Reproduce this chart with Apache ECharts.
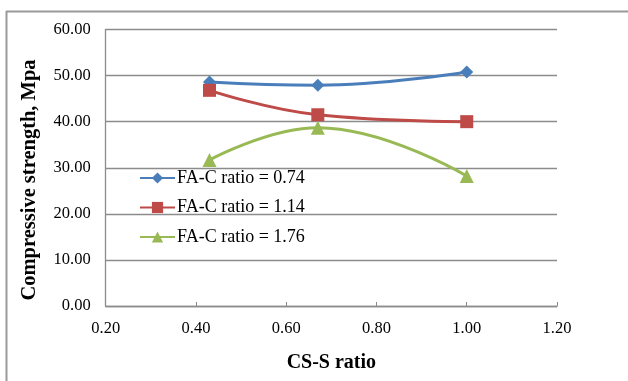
<!DOCTYPE html>
<html><head><meta charset="utf-8">
<script src="https://cdn.jsdelivr.net/npm/echarts@6/dist/echarts.min.js"></script>
<style>html,body{margin:0;padding:0;background:#fff}#c{width:628px;height:381px}</style>
</head><body><div id="c"></div>
<script>
const xValues = [0.43, 0.67, 1.00];
const seriesNames = ['FA-C ratio = 0.74', 'FA-C ratio = 1.14', 'FA-C ratio = 1.76'];
const s074 = [48.6, 47.9, 50.8];
const s114 = [46.8, 41.5, 40.0];
const s176 = [31.7, 38.7, 28.2];
const xTicks = [0.2, 0.4, 0.6, 0.8, 1.0, 1.2];
const yTicks = [0, 10, 20, 30, 40, 50, 60];
const yTitle = 'Compressive strength, Mpa';
const xTitle = 'CS-S ratio';

const chart = echarts.init(document.getElementById('c'));
const font = 'Liberation Serif';
function mk(name, vals, color, symbol, size) {
  return {
    name, type: 'line', smooth: 0.45, symbol, symbolSize: size,
    data: xValues.map((x, i) => [x, vals[i]]),
    lineStyle: { color, width: 3 }, itemStyle: { color },
    emphasis: { disabled: true }
  };
}
chart.setOption({
  animation: false,
  graphic: [
    { type: 'line', shape: { x1: 6, y1: 11.5, x2: 628, y2: 11.5 }, style: { stroke: '#9a9a9a', lineWidth: 2 } },
    { type: 'line', shape: { x1: 6.5, y1: 11, x2: 6.5, y2: 381 }, style: { stroke: '#9a9a9a', lineWidth: 2 } },
    { type: 'text', x: 30, y: 180, rotation: Math.PI / 2,
      style: { text: yTitle, font: 'bold 20.5px "Liberation Serif"', fill: '#000', textAlign: 'center', textVerticalAlign: 'middle' } }
  ],
  grid: { left: 105.7, right: 71, top: 29.5, bottom: 75 },
  legend: {
    orient: 'vertical', left: 134, top: 164, itemWidth: 35, itemHeight: 14, itemGap: 11.5,
    textStyle: { fontFamily: font, fontSize: 18, color: '#000', padding: [0, 0, 0, -3] },
    data: seriesNames
  },
  xAxis: {
    type: 'value', min: 0.2, max: 1.2, interval: 0.2,
    name: xTitle, nameLocation: 'middle', nameGap: 47,
    nameTextStyle: { fontFamily: font, fontSize: 20, fontWeight: 'bold', color: '#000' },
    axisLine: { show: true, lineStyle: { color: '#8c8c8c', width: 1.3 } },
    axisTick: { show: true, inside: true, length: 4, lineStyle: { color: '#8c8c8c' } },
    splitLine: { show: false },
    axisLabel: { fontFamily: font, fontSize: 16.5, color: '#000', margin: 14, formatter: v => v.toFixed(2) }
  },
  yAxis: {
    type: 'value', min: 0, max: 60, interval: 10,
    axisLine: { show: true, lineStyle: { color: '#8c8c8c', width: 1.3 } },
    axisTick: { show: false },
    splitLine: { show: true, lineStyle: { color: '#8c8c8c', width: 1.3 } },
    axisLabel: { fontFamily: font, fontSize: 16.5, color: '#000', margin: 15, formatter: v => v.toFixed(2) }
  },
  series: [
    mk(seriesNames[0], s074, '#4A7EBB', 'diamond', 13),
    mk(seriesNames[1], s114, '#BE4B48', 'rect', 13),
    mk(seriesNames[2], s176, '#98B954', 'triangle', 14)
  ]
});
</script></body></html>
